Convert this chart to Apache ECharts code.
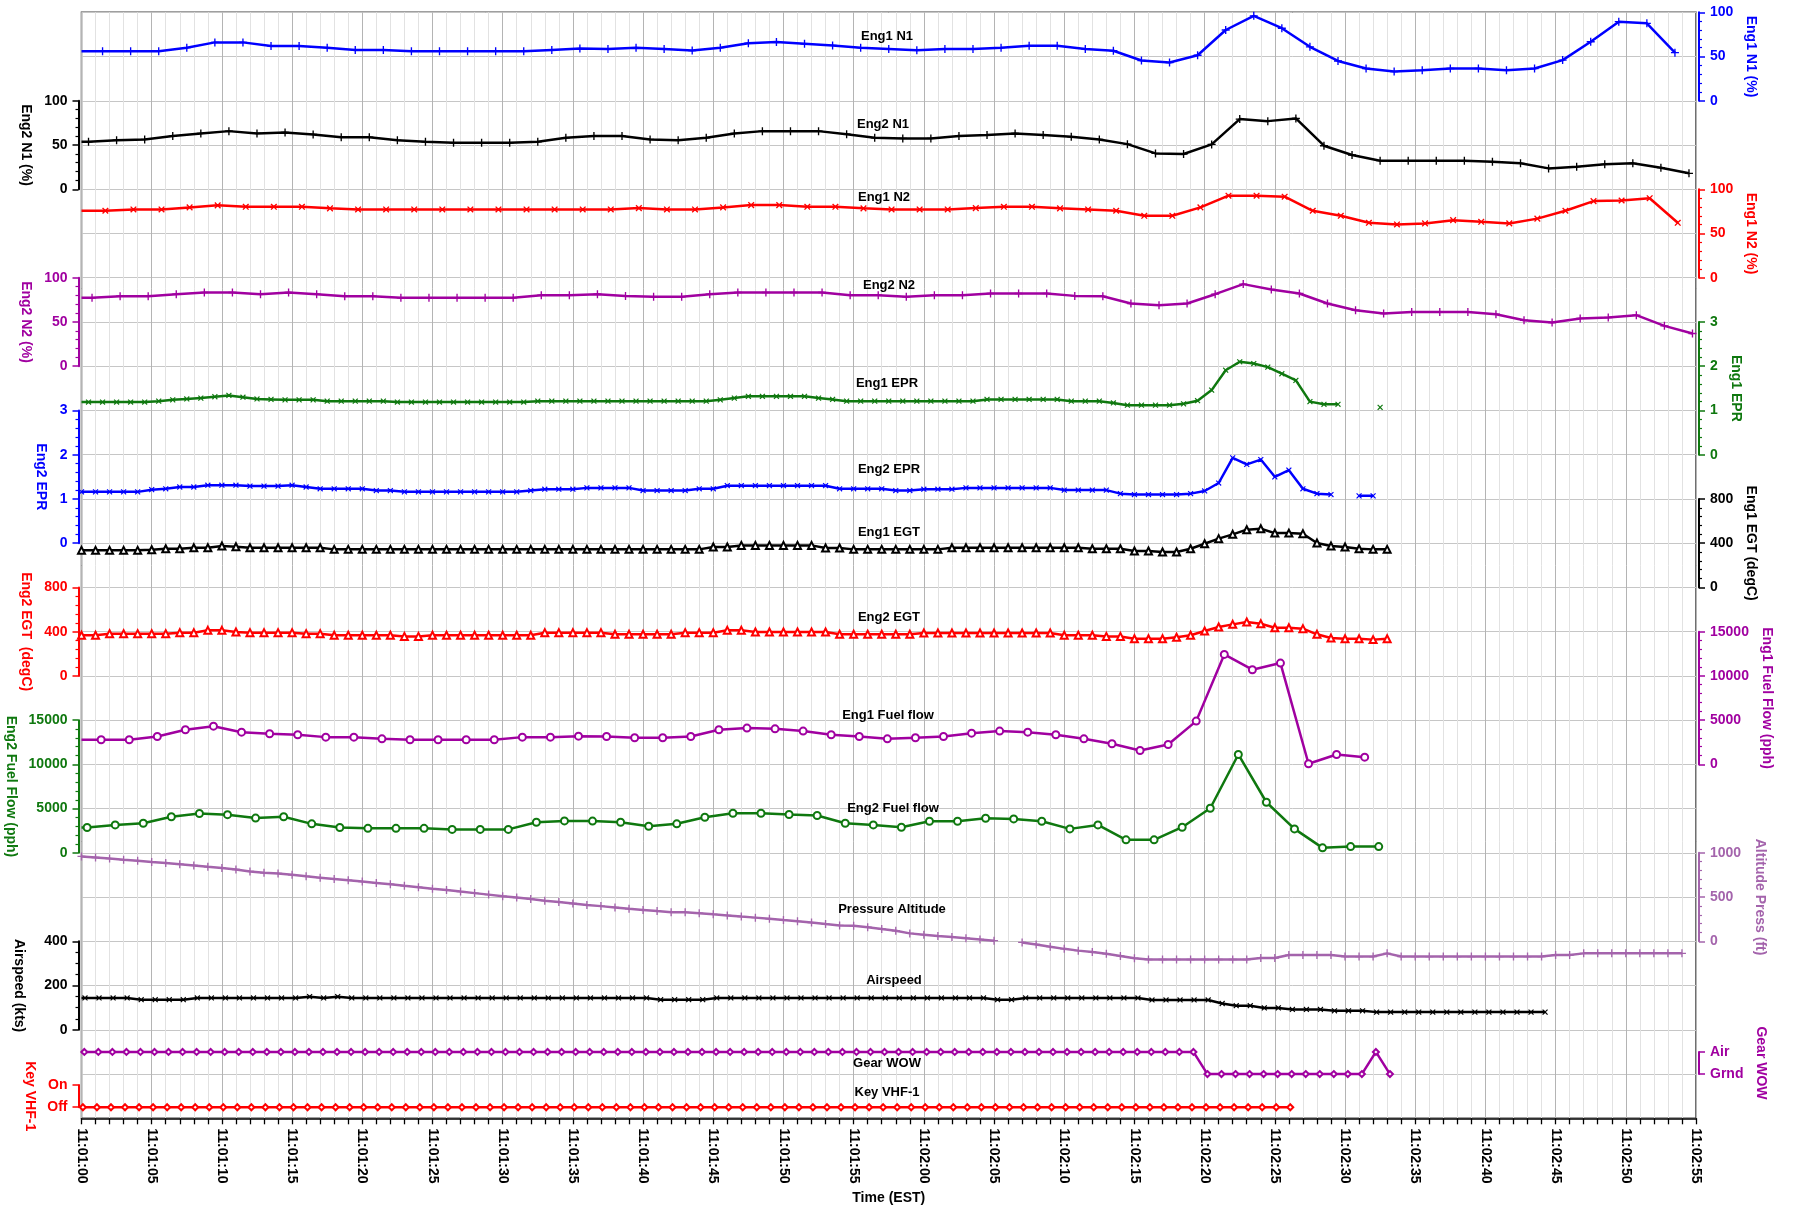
<!DOCTYPE html>
<html><head><meta charset="utf-8">
<script src="https://cdn.jsdelivr.net/npm/echarts@6/dist/echarts.min.js"></script>
<style>html,body{margin:0;padding:0;background:#fff}#c{width:1793px;height:1209px}</style>
</head><body><div id="c"></div>
<script>
// ---------------- DATA (seconds after 11:01:00) ----------------
const timeTicks = {min: 0, max: 115, step: 5};

const eng1N1 = [56,56,56,60,66,66,62,62,60,57.5,57.5,56,56,56,56,56,57.5,59,58.5,60,58.5,56.7,60,65,66.4,64.5,62.6,60,58.5,57,58.5,58.5,60,62.3,62.3,58.5,56.5,45.5,43.2,51.5,80,96,82,61,45,36.5,33,34.4,36.5,36.5,34.4,36.5,46,66.7,89.4,87.5,54.4];
const eng2N1 = [53.7,55.5,56.3,60.1,63.1,65.7,63.1,64.2,62,58.9,58.9,55.5,53.7,52.5,52.5,52.5,53.7,58.2,60.1,60.1,56.3,55.5,58.2,63.1,65.7,65.7,65.7,62.3,58.2,57.5,57.5,60.1,61.2,63.1,61.2,59.3,56.3,51,40.5,39.8,50.7,79.3,77,80,49.2,38.7,32.3,32.3,32.3,32.3,31.2,29.3,23.6,25.5,28.2,29.3,24.4,18];
const eng1N2 = [75.7,77.2,77.2,79.5,81.8,80.2,80.2,80.2,78.4,77.2,77.2,77.2,77.2,77.2,77.2,77.2,77.2,77.2,77.2,78.7,77.2,77.2,79.5,82.1,82.1,80.2,80.2,78.4,77.2,77.2,77.2,78.7,80.2,80.2,78.4,77.2,75.7,70,70,79.5,92.7,92.7,91.6,75.7,70,62.1,60.2,61.4,65.1,63.2,61.4,66.8,75.7,86.6,87.3,89.9,62.1];
const eng2N2 = [77.3,79.2,79.2,81.4,83.3,83.3,81.4,83.3,81.4,79.2,79.2,77.3,77.3,77.3,77.3,77.3,80.3,80.3,81.4,79.5,78.4,78.4,81.4,83.3,83.3,83.3,83.3,80.3,80.3,78.4,80.3,80.3,82.2,82.2,82.2,79.5,79,70.9,69,70.9,81.4,92.8,86.8,82.2,70.9,63.3,59.6,61.4,61.4,61.4,58.8,52,49.4,54,55.1,57.7,45.6,37];
const eng1EPR = [1.19,1.19,1.19,1.19,1.19,1.21,1.24,1.26,1.28,1.31,1.34,1.30,1.26,1.25,1.24,1.24,1.24,1.21,1.21,1.21,1.21,1.21,1.19,1.19,1.19,1.19,1.19,1.19,1.19,1.19,1.19,1.19,1.21,1.21,1.21,1.21,1.21,1.21,1.21,1.21,1.21,1.21,1.21,1.21,1.21,1.24,1.28,1.32,1.32,1.32,1.32,1.32,1.28,1.25,1.21,1.21,1.21,1.21,1.21,1.21,1.21,1.21,1.21,1.21,1.25,1.25,1.25,1.25,1.25,1.25,1.21,1.21,1.21,1.17,1.12,1.12,1.12,1.12,1.15,1.22,1.46,1.91,2.10,2.06,1.98,1.83,1.68,1.20,1.14,1.14,null,null,1.07];
const eng2EPR = [1.16,1.16,1.16,1.16,1.16,1.21,1.23,1.27,1.27,1.31,1.31,1.31,1.29,1.29,1.29,1.31,1.27,1.23,1.23,1.23,1.23,1.19,1.19,1.16,1.16,1.16,1.16,1.16,1.16,1.16,1.16,1.16,1.19,1.22,1.22,1.22,1.25,1.25,1.25,1.25,1.19,1.19,1.19,1.19,1.23,1.23,1.30,1.30,1.30,1.30,1.30,1.30,1.30,1.30,1.23,1.23,1.23,1.23,1.19,1.19,1.22,1.22,1.22,1.25,1.25,1.25,1.25,1.25,1.25,1.25,1.20,1.20,1.20,1.20,1.12,1.10,1.10,1.10,1.10,1.12,1.18,1.36,1.93,1.78,1.89,1.50,1.65,1.23,1.12,1.10,null,1.07,1.07];
const eng1EGT = [335,335,335,335,335,341,350,350,359,359,374,368,359,359,359,359,359,359,344,344,344,344,344,344,344,344,344,344,344,344,344,344,344,344,344,344,344,344,344,344,344,344,344,344,344,365,365,380,380,380,380,380,380,356,356,344,344,344,344,344,344,344,359,359,359,359,359,359,359,359,359,359,350,350,350,329,329,320,320,350,395,441,480,522,531,491,491,486,401,374,365,350,344,344];
const eng2EGT = [367,367,382,382,382,382,382,391,391,412,412,397,391,391,391,391,382,382,367,367,367,367,367,357,357,367,367,367,367,367,367,367,367,391,391,391,391,391,376,376,376,376,376,391,391,391,412,412,397,397,397,397,397,397,376,376,376,376,376,376,388,388,388,388,388,388,388,388,388,388,367,367,367,357,357,336,336,336,350,367,406,442,466,487,472,436,436,427,376,342,336,336,328,336];
const eng1FF = [2780,2780,3155,3910,4320,3640,3460,3350,3080,3080,2890,2780,2780,2780,2780,3080,3080,3190,3155,3005,3005,3155,3910,4100,4020,3760,3350,3155,2890,3005,3155,3530,3760,3640,3350,2890,2330,1570,2250,4890,12430,10700,11450,70,1120,815];
const eng2FF = [2870,3160,3350,4080,4450,4320,3930,4080,3280,2870,2770,2770,2770,2650,2650,2650,3460,3610,3590,3460,3010,3280,4030,4480,4480,4330,4220,3350,3160,2900,3575,3575,3910,3840,3575,2710,3160,1470,1470,2900,5040,11120,5720,2710,565,710,710];
const altitude = [960,948,935,922,912,898,885,872,858,842,828,812,790,775,768,752,735,720,705,690,675,660,645,628,612,595,580,562,545,528,510,495,478,460,444,428,412,398,383,368,355,342,330,328,318,305,293,280,268,255,240,226,212,195,180,175,160,140,120,90,75,60,48,35,22,8,null,-12,-35,-60,-85,-105,-120,-140,-165,-190,-205,-205,-205,-205,-205,-205,-205,-205,-188,-188,-155,-155,-155,-155,-172,-172,-172,-136,-172,-172,-172,-172,-172,-172,-172,-172,-172,-172,-172,-154,-154,-136,-136,-136,-136,-136,-136,-136,-136];
const airspeed = [144,144,144,144,136,136,136,136,144,144,144,144,144,144,144,144,150,144,150,144,144,144,144,144,144,144,144,144,144,144,144,144,144,144,144,144,144,144,144,144,144,136,136,136,136,144,144,144,144,144,144,144,144,144,144,144,144,144,144,144,144,144,144,144,144,136,136,144,144,144,144,144,144,144,144,144,135,135,135,135,135,119,109,109,99,99,92,92,92,86,86,86,80,80,80,80,80,80,80,80,80,80,80,80,80];
const gearWOW = [1,1,1,1,1,1,1,1,1,1,1,1,1,1,1,1,1,1,1,1,1,1,1,1,1,1,1,1,1,1,1,1,1,1,1,1,1,1,1,1,1,1,1,1,1,1,1,1,1,1,1,1,1,1,1,1,1,1,1,1,1,1,1,1,1,1,1,1,1,1,1,1,1,1,1,1,1,1,1,1,0,0,0,0,0,0,0,0,0,0,0,0,1,0];
const keyVHF = [0,0,0,0,0,0,0,0,0,0,0,0,0,0,0,0,0,0,0,0,0,0,0,0,0,0,0,0,0,0,0,0,0,0,0,0,0,0,0,0,0,0,0,0,0,0,0,0,0,0,0,0,0,0,0,0,0,0,0,0,0,0,0,0,0,0,0,0,0,0,0,0,0,0,0,0,0,0,0,0,0,0,0,0,0,0,0];

// sample timing: [first sample time (s), sample period (s)]
const timing = {
  eng1N1:[1.5,2], eng2N1:[0.5,2], eng1N2:[1.7,2], eng2N2:[0.75,2],
  eng1EPR:[0.5,1], eng2EPR:[0,1], eng1EGT:[0,1], eng2EGT:[0,1],
  eng1FF:[1.4,2], eng2FF:[0.4,2], altitude:[0,1], airspeed:[0.25,1],
  gearWOW:[0.2,1], keyVHF:[0.1,1]
};

// ---------------- STYLE / LAYOUT ----------------
const FONT = '"Liberation Sans", Arial, sans-serif';
const L = 81.5, R = 1696, T = 12.3, ROW = 44.24;
const C = {blue:'#0000ff', black:'#000000', red:'#ff0000', purple:'#a000a0', green:'#0f780f', alt:'#a464ac'};
const PLUS = 'path://M-1,-6L1,-6L1,-1L6,-1L6,1L1,1L1,6L-1,6L-1,1L-6,1L-6,-1L-1,-1Z';

function fmtTime(v){
  const m = 1 + Math.floor(v/60), s = v % 60;
  return '11:' + String(m).padStart(2,'0') + ':' + String(s).padStart(2,'0');
}

const defs = [
 {key:'eng1N1', vals:eng1N1, title:'Eng1 N1', tpos:[887,36], color:C.blue, sym:PLUS, size:8, rot:0, side:'right', n:[0,2], min:0,max:100,int:50,minor:5, axName:'Eng1 N1 (%)', gap:38},
 {key:'eng2N1', vals:eng2N1, title:'Eng2 N1', tpos:[883,124], color:C.black, sym:PLUS, size:8, rot:0, side:'left', n:[2,4], min:0,max:100,int:50,minor:5, axName:'Eng2 N1 (%)', gap:45},
 {key:'eng1N2', vals:eng1N2, title:'Eng1 N2', tpos:[884,197], color:C.red, sym:PLUS, size:8, rot:45, side:'right', n:[4,6], min:0,max:100,int:50,minor:5, axName:'Eng1 N2 (%)', gap:42},
 {key:'eng2N2', vals:eng2N2, title:'Eng2 N2', tpos:[889,285], color:C.purple, sym:PLUS, size:8, rot:0, side:'left', n:[6,8], min:0,max:100,int:50,minor:5, axName:'Eng2 N2 (%)', gap:43},
 {key:'eng1EPR', vals:eng1EPR, title:'Eng1 EPR', tpos:[887,383], color:C.green, sym:PLUS, size:7, rot:45, side:'right', n:[7,10], min:0,max:3,int:1,minor:5, axName:'Eng1 EPR', gap:29},
 {key:'eng2EPR', vals:eng2EPR, title:'Eng2 EPR', tpos:[889,469], color:C.blue, sym:PLUS, size:7, rot:45, side:'left', n:[9,12], min:0,max:3,int:1,minor:5, axName:'Eng2 EPR', gap:31},
 {key:'eng1EGT', vals:eng1EGT, title:'Eng1 EGT', tpos:[889,532], color:C.black, sym:'emptyTriangle', size:7, rot:0, side:'right', n:[11,13], min:0,max:800,int:400,minor:5, axName:'Eng1 EGT (degC)', gap:40},
 {key:'eng2EGT', vals:eng2EGT, title:'Eng2 EGT', tpos:[889,617], color:C.red, sym:'emptyTriangle', size:7, rot:0, side:'left', n:[13,15], min:0,max:800,int:400,minor:5, axName:'Eng2 EGT  (degC)', gap:44},
 {key:'eng1FF', vals:eng1FF, title:'Eng1 Fuel flow', tpos:[888,715], color:C.purple, sym:'emptyCircle', size:7, rot:0, side:'right', n:[14,17], min:0,max:15000,int:5000,minor:5, axName:'Eng1 Fuel Flow (pph)', gap:58},
 {key:'eng2FF', vals:eng2FF, title:'Eng2 Fuel flow', tpos:[893,808], color:C.green, sym:'emptyCircle', size:7, rot:0, side:'left', n:[16,19], min:0,max:15000,int:5000,minor:5, axName:'Eng2 Fuel Flow (pph)', gap:57},
 {key:'altitude', vals:altitude, title:'Pressure Altitude', tpos:[892,909], color:C.alt, sym:PLUS, size:8, rot:0, side:'right', n:[19,21], min:0,max:1000,int:500,minor:5, axName:'Altitude Press (ft)', gap:54},
 {key:'airspeed', vals:airspeed, title:'Airspeed', tpos:[894,980], color:C.black, sym:PLUS, size:7, rot:45, side:'left', n:[21,23], min:0,max:400,int:200,minor:4, axName:'Airspeed (kts)', gap:53},
 {key:'gearWOW', vals:gearWOW, title:'Gear WOW', tpos:[887,1063], color:C.purple, sym:'emptyDiamond', size:6, rot:0, side:'right', n:[23.5,24], min:0,max:1,int:1,minor:0, axName:'Gear WOW', gap:50, labels:['Grnd','Air']},
 {key:'keyVHF', vals:keyVHF, title:'Key VHF-1', tpos:[887,1092], color:C.red, sym:'emptyDiamond', size:6, rot:0, side:'left', n:[24.25,24.75], min:0,max:1,int:1,minor:0, axName:'Key VHF-1', gap:40, labels:['Off','On']}
];

const grids = [{left:L, top:T, width:R-L, height:ROW*25, show:true, borderColor:'#404040', borderWidth:1.5, backgroundColor:'transparent', outerBoundsMode:'none', containLabel:false}];
const xAxes = [{
  type:'value', gridIndex:0, min:timeTicks.min, max:timeTicks.max, interval:timeTicks.step, position:'bottom',
  name:'Time (EST)', nameLocation:'middle', nameGap:72,
  nameTextStyle:{fontFamily:FONT, fontWeight:'bold', fontSize:14, color:'#000'},
  axisLine:{show:true, onZero:false, lineStyle:{color:'#000', width:1.5}},
  axisTick:{show:true, length:6, lineStyle:{color:'#000', width:1.3}},
  minorTick:{show:true, splitNumber:5, length:6, lineStyle:{color:'#000', width:1.3}},
  splitLine:{show:true, lineStyle:{color:'#b4b4b4', width:1}},
  minorSplitLine:{show:true, lineStyle:{color:'#e2e2e2', width:1}},
  axisLabel:{rotate:-90, margin:10, fontFamily:FONT, fontWeight:'bold', fontSize:14, color:'#000', formatter:fmtTime, hideOverlap:false}
}];
const yAxes = [{
  type:'value', gridIndex:0, min:0, max:25, interval:1, inverse:true,
  axisLine:{show:false, onZero:false}, axisTick:{show:false}, axisLabel:{show:false},
  splitLine:{show:true, lineStyle:{color:'#c6c6c6', width:1}}
}];
const series = [{type:'line', xAxisIndex:0, yAxisIndex:0, data:[], silent:true}];
const graphics = [];

defs.forEach((d, i) => {
  const gi = i + 1;
  grids.push({left:L, top:T + ROW*d.n[0], width:R-L, height:ROW*(d.n[1]-d.n[0]), show:false, outerBoundsMode:'none', containLabel:false});
  xAxes.push({type:'value', gridIndex:gi, min:timeTicks.min, max:timeTicks.max, show:false, axisLine:{onZero:false}});
  yAxes.push({
    type:'value', gridIndex:gi, position:d.side, offset:3, min:d.min, max:d.max, interval:d.int, z:10,
    name:d.axName, nameLocation:'middle', nameRotate:-90, nameGap:d.gap,
    nameTextStyle:{color:d.color, fontFamily:FONT, fontWeight:'bold', fontSize:14},
    axisLine:{show:true, onZero:false, lineStyle:{color:d.color, width:2}},
    axisTick:{show:true, length:6, lineStyle:{color:d.color, width:1.5}},
    minorTick:{show:d.minor>0, splitNumber:d.minor||5, length:3, lineStyle:{color:d.color, width:1.2}},
    splitLine:{show:false}, minorSplitLine:{show:false},
    axisLabel:{color:d.color, fontFamily:FONT, fontWeight:'bold', fontSize:14, margin:11,
      formatter: d.labels ? (v => d.labels[v]) : (v => String(v))}
  });
  const [t0, dt] = timing[d.key];
  const data = [];
  if (t0 > 0) data.push({value:[0, d.vals[0]], symbol:'none'});
  d.vals.forEach((v, k) => data.push([+(t0 + dt*k).toFixed(2), v]));
  const empty = String(d.sym).startsWith('empty');
  series.push({
    type:'line', name:d.title, xAxisIndex:gi, yAxisIndex:gi, data,
    symbol:d.sym, symbolSize:d.size, symbolRotate:d.rot, showSymbol:true, showAllSymbol:true,
    lineStyle:{color:d.color, width:2.5}, clip:false, connectNulls:false,
    itemStyle:{color:d.color, borderColor:d.color, borderWidth: empty ? 1.3 : 0},
    emphasis:{disabled:true}, silent:true, z:3
  });
  graphics.push({type:'text', x:d.tpos[0], y:d.tpos[1], z:50,
    style:{text:d.title, font:'bold 13px ' + FONT, fill:'#000', textAlign:'center', textVerticalAlign:'middle', align:'center', verticalAlign:'middle'}});
});

const chart = echarts.init(document.getElementById('c'), null, {renderer:'canvas'});
chart.setOption({
  animation:false, backgroundColor:'#ffffff',
  grid:grids, xAxis:xAxes, yAxis:yAxes, series, graphic:graphics
});
</script></body></html>
